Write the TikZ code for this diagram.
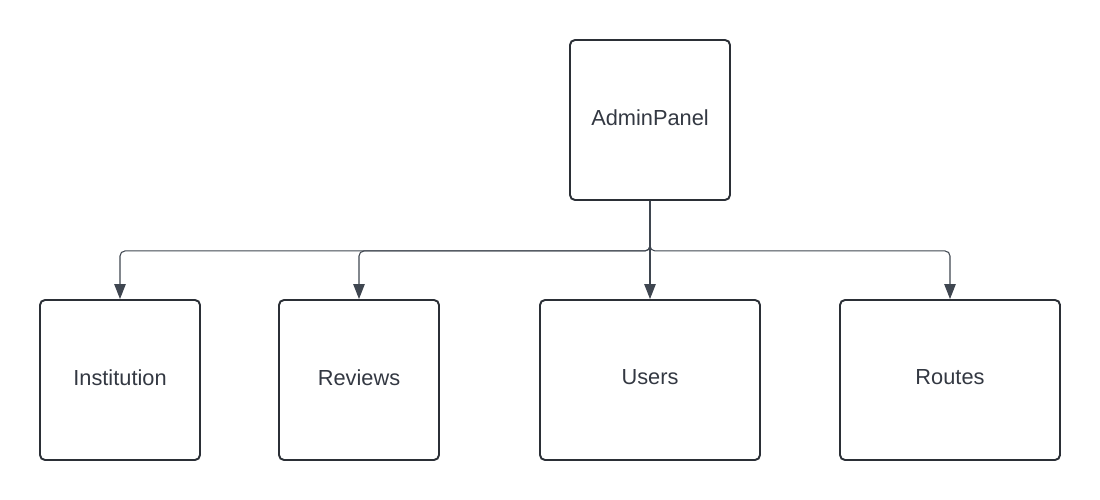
\documentclass[tikz,border=0pt]{standalone}
\usepackage{fontspec}
\setmainfont{Liberation Sans}
\usetikzlibrary{arrows.meta}

\definecolor{boxline}{HTML}{2B2F36}
\definecolor{connline}{HTML}{3F4650}
\definecolor{labeltext}{HTML}{333842}

\tikzset{
    block/.style={draw=boxline, line width=1.1pt, rounded corners=0.1cm,
        minimum height=3.2cm, text=labeltext, text depth=0.1cm,
        font=\fontsize{12.4}{15}\selectfont},
    conn/.style={draw=connline, line width=0.6pt, rounded corners=0.1cm,
        -{Triangle[length=0.3cm,width=0.23cm]}}
}

\begin{document}
\begin{tikzpicture}
        \useasboundingbox (0,0) rectangle (22,-10);
        \node[block, minimum width=3.2cm] (admin) at (13,-2.4) {AdminPanel};
        \node[block, minimum width=3.2cm] (inst) at (2.4,-7.6) {Institution};
        \node[block, minimum width=3.2cm] (reviews) at (7.18,-7.6) {Reviews};
        \node[block, minimum width=4.4cm] (users) at (13,-7.6) {Users};
        \node[block, minimum width=4.4cm] (routes) at (19,-7.6) {Routes};
        \draw[conn] (admin.south) -- ++(0,-1) -| (inst.north);
        \draw[conn] (admin.south) -- ++(0,-1) -| (reviews.north);
        \draw[conn] (admin.south) -- (users.north);
        \draw[conn] (admin.south) -- ++(0,-1) -| (routes.north);
    \end{tikzpicture}
\end{document}
